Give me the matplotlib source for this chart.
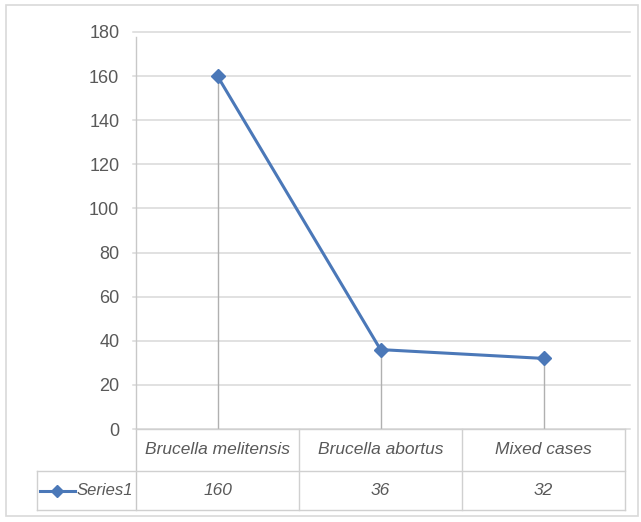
import matplotlib
matplotlib.use("Agg")
import matplotlib.pyplot as plt
from matplotlib.patches import Rectangle

categories = ["Brucella melitensis", "Brucella abortus", "Mixed cases"]
values = [160, 36, 32]
series_name = "Series1"
y_ticks = [0, 20, 40, 60, 80, 100, 120, 140, 160, 180]

plt.rcParams["font.family"] = ["Liberation Sans Narrow", "Liberation Sans", "DejaVu Sans"]

W, H = 641, 522
fig = plt.figure(figsize=(W / 100, H / 100), dpi=100)
fig.patch.set_facecolor("white")

# chart frame
fig.add_artist(Rectangle((6 / W, 1 - 516 / H), 632 / W, 511 / H, transform=fig.transFigure,
                         fill=False, edgecolor="#d9d9d9", linewidth=1.2))

left, right, top, bottom = 136, 625, 32, 429
ax = fig.add_axes([left / W, 1 - bottom / H, (right - left) / W, (bottom - top) / H])

x = list(range(len(categories)))
line_color = "#4b78b8"
text_color = "#595959"
grid_color = "#d9d9d9"

ax.set_xlim(-0.5, len(categories) - 0.5)
ax.set_ylim(0, 180)
ax.set_yticks(y_ticks)
ax.set_yticklabels([str(t) for t in y_ticks], color=text_color, fontsize=13)
ax.tick_params(axis="y", length=0, pad=12)
ax.tick_params(axis="x", length=0, labelbottom=False)
for s in ax.spines.values():
    s.set_visible(False)

for t in y_ticks:
    ax.plot([-0.52, 2.53], [t, t], color=grid_color, linewidth=1.1, clip_on=False, zorder=1)

# y axis line continuing through the data table
tr = ax.get_xaxis_transform()
ax.plot([-0.5, -0.5], [-81 / 397, 392 / 397], color="#c8c8c8", linewidth=1.0,
        transform=tr, clip_on=False, zorder=1)

# drop lines
for xi, v in zip(x, values):
    ax.plot([xi, xi], [0, v], color="#b0b0b0", linewidth=1.0, zorder=2)

ax.plot(x, values, color=line_color, linewidth=2.2, marker="D", markersize=7,
        markerfacecolor=line_color, markeredgecolor=line_color, zorder=3)

# data table below the axis
hdr_bot = -42 / 397
tbl_bot = -81 / 397
leg_left = -0.5 - 99 / 163
tbl_color = "#d0d0d0"
for yv in (0, hdr_bot, tbl_bot):
    x0 = -0.5 if yv == 0 else leg_left
    ax.plot([x0, 2.5], [yv, yv], color=tbl_color, linewidth=1.0, transform=tr, clip_on=False)
for xv in (0.5, 1.5, 2.5):
    ax.plot([xv, xv], [tbl_bot, 0], color=tbl_color, linewidth=1.0, transform=tr, clip_on=False)
ax.plot([leg_left, leg_left], [tbl_bot, hdr_bot], color=tbl_color, linewidth=1.0,
        transform=tr, clip_on=False)

for xi, c, v in zip(x, categories, values):
    ax.text(xi, hdr_bot / 2, c, transform=tr, ha="center", va="center", fontsize=12.5,
            style="italic", color=text_color)
    ax.text(xi, (hdr_bot + tbl_bot) / 2, str(v), transform=tr, ha="center", va="center",
            fontsize=12.5, style="italic", color=text_color)

# legend key in the table
ym = (hdr_bot + tbl_bot) / 2
kx0 = leg_left + 3 / 163
kx1 = leg_left + 38 / 163
ax.plot([kx0, kx1], [ym, ym], color=line_color, linewidth=2.2, transform=tr, clip_on=False)
ax.plot([(kx0 + kx1) / 2], [ym], color=line_color, marker="D", markersize=6,
        transform=tr, clip_on=False)
ax.text(kx1 + 2 / 163, ym, series_name, transform=tr, ha="left", va="center", fontsize=12,
        style="italic", color=text_color)

fig.savefig("out.png", dpi=100, facecolor="white")
